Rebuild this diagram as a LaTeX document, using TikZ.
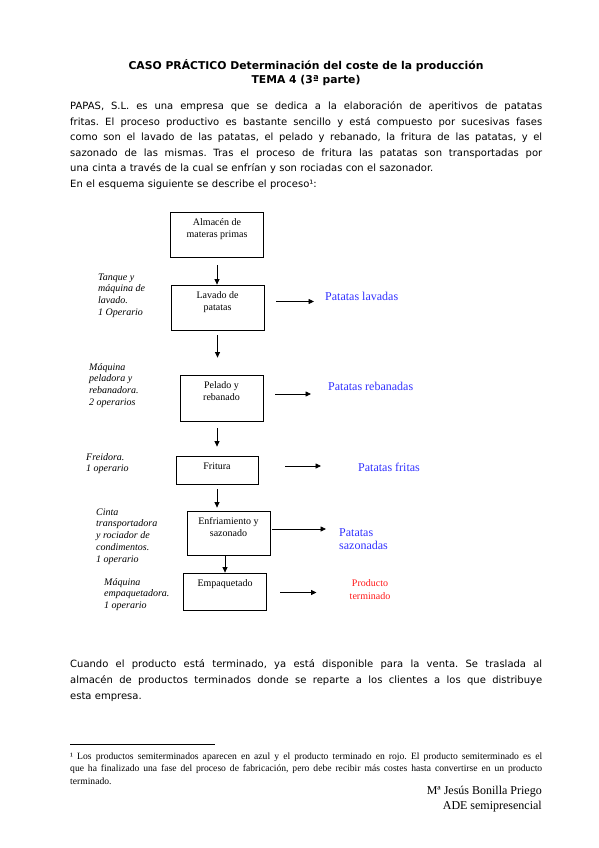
\documentclass[tikz,border=0pt]{standalone}
\usepackage{fontspec}
\setmainfont{Liberation Serif}
\newfontfamily\tahoma{DejaVu Sans}
\usetikzlibrary{arrows.meta,positioning}
\frenchspacing
\newcommand\linea[1]{{\spaceskip=0pt\xspaceskip=0pt\makebox[472pt][s]{#1}}}

\begin{document}
\begin{tikzpicture}[x=1pt, y=-1pt,
  caja/.style={rectangle, draw, line width=0.8pt},
  txtcaja/.style={inner sep=0pt, align=center,
    font=\fontsize{10}{12}\selectfont},
  oper/.style={anchor=north west, inner sep=0pt, align=left,
    font=\fontsize{10}{11.8}\selectfont\itshape},
  prod/.style={inner sep=0pt, align=left, text=blue!80,
    font=\fontsize{12}{13}\selectfont},
  flecha/.style={-{Triangle[length=5.5pt, width=5pt]}, line width=0.8pt},
  cuerpo/.style={anchor=north west, inner sep=0pt, text width=472pt,
    align=left},
]
  \path[use as bounding box, fill=white] (0,0) rectangle (599,848);

  % cabecera y texto
  \node[inner sep=0pt, align=center, anchor=north,
    font=\tahoma\bfseries\fontsize{10.8}{14}\selectfont] (titulo) at (306,59.2)
    {\strut CASO PRÁCTICO Determinación del coste de la producción\\
     TEMA 4 (3ª parte)};
  \node[cuerpo, font=\tahoma\fontsize{10}{15.5}\selectfont] (parr1) at (70,98.6)
    {\strut\linea{PAPAS, S.L. es una empresa que se dedica a la elaboración de aperitivos de patatas}\\
     \linea{fritas. El proceso productivo es bastante sencillo y está compuesto por sucesivas fases}\\
     \linea{como son el lavado de las patatas, el pelado y rebanado, la fritura de las patatas, y el}\\
     \linea{sazonado de las mismas. Tras el proceso de fritura las patatas son transportadas por}\\
     una cinta a través de la cual se enfrían y son rociadas con el sazonador.\\
     En el esquema siguiente se describe el proceso¹:};

  % esquema del proceso
  \node[caja, minimum width=93pt, minimum height=45pt] (alm) at (217,234.5) {};
  \node[txtcaja, below=5pt of alm.north] (alm-t) {\strut Almacén de\\materas primas};
  \node[caja, minimum width=93pt, minimum height=45pt] (lav) at (217.5,307.5) {};
  \node[txtcaja, below=5pt of lav.north] (lav-t) {\strut Lavado de\\patatas};
  \node[caja, minimum width=83pt, minimum height=46pt] (pel) at (221.5,398) {};
  \node[txtcaja, below=5pt of pel.north] (pel-t) {\strut Pelado y\\rebanado};
  \node[caja, minimum width=82pt, minimum height=28pt] (fri) at (217,470) {};
  \node[txtcaja, below=5pt of fri.north] (fri-t) {\strut Fritura};
  \node[caja, minimum width=83pt, minimum height=44pt] (enf) at (228.5,533) {};
  \node[txtcaja, below=5pt of enf.north] (enf-t) {\strut Enfriamiento y\\sazonado};
  \node[caja, minimum width=83pt, minimum height=37pt] (emp) at (225,591.5) {};
  \node[txtcaja, below=5pt of emp.north] (emp-t) {\strut Empaquetado};

  \node[oper] (o-lav) at (98,271.6) {\strut Tanque y\\máquina de\\lavado.\\1 Operario};
  \node[oper] (o-pel) at (89,361.6) {\strut Máquina\\peladora y\\rebanadora.\\2 operarios};
  \node[oper] (o-fri) at (86,451.6) {\strut Freidora.\\1 operario};
  \node[oper] (o-enf) at (96,506.6) {\strut Cinta\\transportadora\\y rociador de\\condimentos.\\1 operario};
  \node[oper] (o-emp) at (104,576.6) {\strut Máquina\\empaquetadora.\\1 operario};

  \node[prod, anchor=base west] (plav) at (325,300) {Patatas lavadas};
  \node[prod, anchor=base west] (preb) at (328,390) {Patatas rebanadas};
  \node[prod, anchor=base west] (pfri) at (358,471) {Patatas fritas};
  \node[prod, anchor=north west] (psaz) at (339,527) {\strut Patatas\\sazonadas};
  \node[prod, anchor=north, align=center, text=red!90,
    font=\fontsize{10}{13}\selectfont] (pter) at (370,577.4) {\strut Producto\\terminado};

  \draw[flecha, shorten <=8pt] (alm.south) -- (alm.south |- lav.north);
  \draw[flecha, shorten <=5pt, shorten >=17pt] (lav.south) -- (lav.south |- pel.north);
  \draw[flecha, shorten <=7pt, shorten >=9pt] (fri.north |- pel.south) -- (fri.north);
  \draw[flecha, shorten <=5pt, shorten >=3pt] (fri.south) -- (fri.south |- enf.north);
  \draw[flecha, shorten <=1pt] (emp.north |- enf.south) -- (emp.north);

  \draw[flecha, transform canvas={yshift=6pt}, shorten <=12pt, shorten >=11pt]
    (lav.east) -- (lav.east -| plav.west);
  \draw[flecha, transform canvas={yshift=4pt}, shorten <=12pt, shorten >=17pt]
    (pel.east) -- (pel.east -| preb.west);
  \draw[flecha, transform canvas={yshift=4pt}, shorten <=27pt, shorten >=37pt]
    (fri.east) -- (fri.east -| pfri.west);
  \draw[flecha, transform canvas={yshift=4pt}, shorten <=2pt, shorten >=13pt]
    (enf.east) -- (enf.east -| psaz.west);
  \draw[flecha, transform canvas={yshift=-1pt}, shorten <=13.5pt, shorten >=33pt]
    (emp.east) -- (emp.east -| pter.west);

  % texto final y nota
  \node[cuerpo, font=\tahoma\fontsize{10}{16}\selectfont] (parr2) at (70,656.3)
    {\strut\linea{Cuando el producto está terminado, ya está disponible para la venta. Se traslada al}\\
     \linea{almacén de productos terminados donde se reparte a los clientes a los que distribuye}\\
     esta empresa.};
  \draw[line width=0.5pt] (70,744) -- (215,744);
  \node[cuerpo, font=\fontsize{9.6}{12.6}\selectfont] (nota) at (70,750.2)
    {\strut\linea{¹ Los productos semiterminados aparecen en azul y el producto terminado en rojo. El producto semiterminado es el}\\
     \linea{que ha finalizado una fase del proceso de fabricación, pero debe recibir más costes hasta convertirse en un producto}\\
     terminado.};
  \node[inner sep=0pt, align=right, anchor=north east,
    font=\fontsize{12}{15}\selectfont] (firma) at (542,784)
    {\strut Mª Jesús Bonilla Priego\\ADE semipresencial};
\end{tikzpicture}
\end{document}
